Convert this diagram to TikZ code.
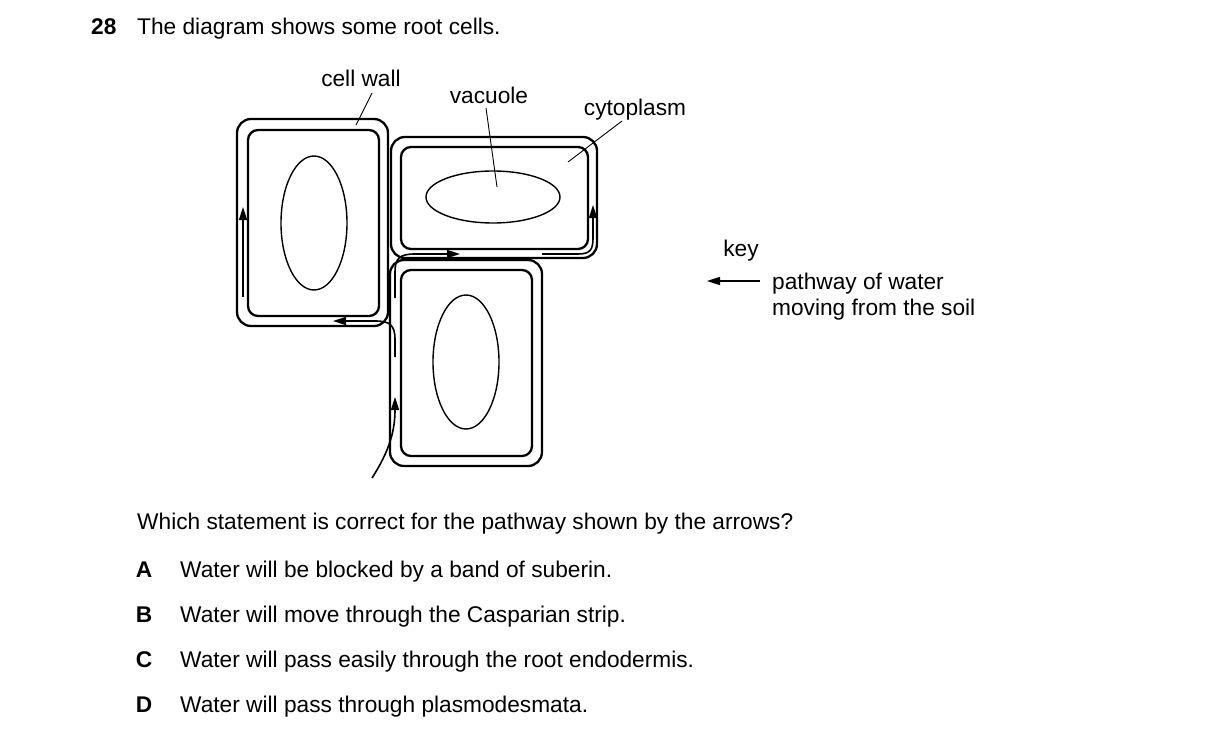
\documentclass[tikz,border=0pt]{standalone}
\usepackage{fontspec}
\setmainfont{Liberation Sans}
\usetikzlibrary{arrows.meta}
\begin{document}
\begin{tikzpicture}[x=1pt,y=-1pt,
  wall/.style={line width=2.3pt,rounded corners=14pt},
  inwall/.style={line width=2.3pt,rounded corners=10pt},
  vac/.style={line width=1.4pt},
  lead/.style={line width=0.9pt},
  path/.style={line width=1.6pt,-{Triangle[length=13pt,width=8pt]}},
  txt/.style={font=\fontsize{22.7}{27}\selectfont,inner sep=0pt},
  bold/.style={font=\fontsize{22.7}{27}\selectfont\bfseries,inner sep=0pt}]
\useasboundingbox (0,0) rectangle (1216,741);
% cells
\draw[wall] (237,119) rectangle (388,326);
\draw[inwall] (248,130) rectangle (379,316);
\draw[vac] (314,223) ellipse [x radius=33,y radius=67];
\draw[wall] (391,137) rectangle (597,258);
\draw[inwall] (401,147) rectangle (588,249);
\draw[vac] (493,197) ellipse [x radius=67,y radius=26];
\draw[wall] (390,260) rectangle (542,466);
\draw[inwall] (401,270) rectangle (532,456);
\draw[vac] (466,362) ellipse [x radius=33,y radius=67];
% pathway
\draw[path] (243,297) -- (243,207);
\draw[path] (372,478) .. controls (390,450) and (395,430) .. (395,397);
\draw[path] (395,357) -- (395,340) .. controls (395,325) and (390,321) .. (375,321) -- (333,321);
\draw[path] (395,298) -- (395,272) .. controls (395,258) and (400,254) .. (415,254) -- (460,254);
\draw[path] (542,254) -- (578,254) .. controls (590,254) and (593,250) .. (593,238) -- (593,205);
% labels
\node[txt,anchor=base] (cw) at (361,87) {cell wall};
\draw[lead] (372,93) -- (356,125);
\node[txt,anchor=base] (va) at (489,104) {vacuole};
\draw[lead] (486,108) -- (497,187);
\node[txt,anchor=base] (cy) at (635,116) {cytoplasm};
\draw[lead] (622,121) -- (568,162);
% key
\node[txt,anchor=base] (key) at (741,256) {key};
\coordinate (ka) at (760,281);
\coordinate (kb) at (707,281);
\draw[path] (ka) -- (kb);
\node[txt,anchor=base west] (kt1) at (772,289) {pathway of water};
\node[txt,anchor=base west] (kt2) at (772,315) {moving from the soil};
% question
\node[bold,anchor=base west] (n) at (91,35) {28};
\node[txt,anchor=base west] (q) at (137,35) {The diagram shows some root cells.};
\node[txt,anchor=base west] (q2) at (137,529) {Which statement is correct for the pathway shown by the arrows?};
\node[bold,anchor=base] (A) at (144,577) {A};
\node[txt,anchor=base west] (At) at (180,577) {Water will be blocked by a band of suberin.};
\node[bold,anchor=base] (B) at (144,622) {B};
\node[txt,anchor=base west] (Bt) at (180,622) {Water will move through the Casparian strip.};
\node[bold,anchor=base] (C) at (144,667) {C};
\node[txt,anchor=base west] (Ct) at (180,667) {Water will pass easily through the root endodermis.};
\node[bold,anchor=base] (D) at (144,712) {D};
\node[txt,anchor=base west] (Dt) at (180,712) {Water will pass through plasmodesmata.};
\end{tikzpicture}
\end{document}
